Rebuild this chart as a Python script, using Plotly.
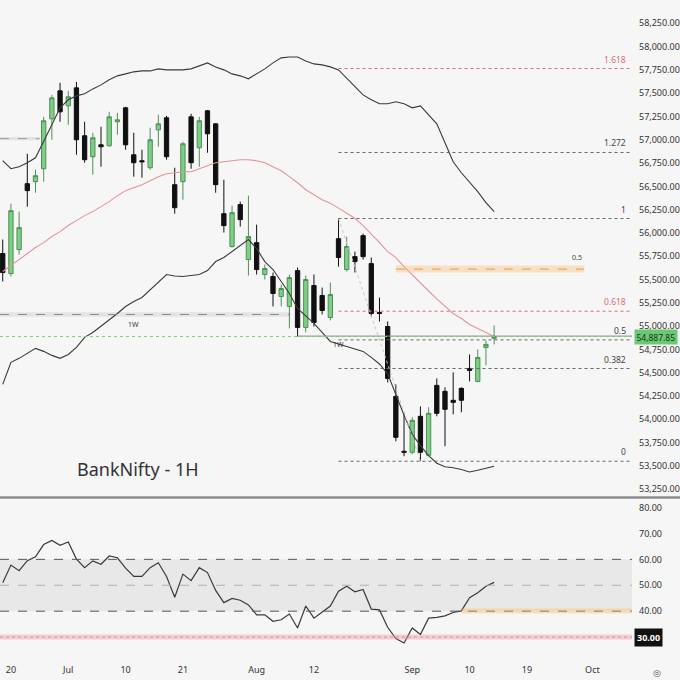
import plotly.graph_objects as go

# ── Data ─────────────────────────────────────────────────────────────────────
DATES = [
    "2025-06-19", "2025-06-20", "2025-06-23", "2025-06-24", "2025-06-25", "2025-06-26",
    "2025-06-27", "2025-06-30", "2025-07-01", "2025-07-02", "2025-07-03", "2025-07-04",
    "2025-07-07", "2025-07-08", "2025-07-09", "2025-07-10", "2025-07-11", "2025-07-14",
    "2025-07-15", "2025-07-16", "2025-07-17", "2025-07-18", "2025-07-21", "2025-07-22",
    "2025-07-23", "2025-07-24", "2025-07-25", "2025-07-28", "2025-07-29", "2025-07-30",
    "2025-07-31", "2025-08-01", "2025-08-04", "2025-08-05", "2025-08-06", "2025-08-07",
    "2025-08-08", "2025-08-11", "2025-08-12", "2025-08-13", "2025-08-14", "2025-08-18",
    "2025-08-19", "2025-08-20", "2025-08-21", "2025-08-22", "2025-08-25", "2025-08-26",
    "2025-08-28", "2025-08-29", "2025-09-01", "2025-09-02", "2025-09-03", "2025-09-04",
    "2025-09-05", "2025-09-08", "2025-09-09", "2025-09-10", "2025-09-11", "2025-09-12",
    "2025-09-15",
]
OPEN = [55779, 55564, 55821, 56529, 56550, 56689, 57225, 57525, 57364, 57557,
        57043, 56818, 56946, 56936, 57193, 57343, 56839, 56775, 56700, 57107,
        57236, 56518, 56550, 57246, 56914, 57311, 57171, 56207, 55854, 56304,
        55714, 55896, 55554, 55532, 55318, 55211, 55596, 54986, 55436, 55329,
        55093, 55939, 55607, 55746, 55971, 55671, 55146, 54996, 54246, 53657,
        53646, 54032, 53614, 54364, 54300, 54204, 54332, 54546, 54407, 54771,
        54870]
HIGH = [55929, 56314, 56229, 56850, 56679, 57246, 57482, 57611, 57525, 57621,
        57193, 57075, 57139, 57300, 57289, 57354, 57075, 56893, 57129, 57268,
        57257, 56700, 56979, 57279, 57246, 57320, 57180, 56571, 56293, 56336,
        56400, 56089, 55661, 55575, 55446, 55554, 55629, 55543, 55554, 55414,
        55468, 56155, 55961, 55800, 55993, 55736, 55307, 55050, 54375, 54075,
        54021, 54139, 54129, 54439, 54343, 54504, 54343, 54696, 54750, 54846,
        55007]
LOW = [55479, 55532, 55768, 56282, 56432, 56550, 57000, 57193, 57161, 56839,
       56754, 56625, 56711, 56925, 57054, 56893, 56604, 56593, 56679, 56925,
       56786, 56207, 56357, 56689, 56711, 56861, 56432, 56004, 55843, 56068,
       55543, 55554, 55500, 55211, 55211, 54975, 54889, 54932, 54996, 55125,
       55061, 55639, 55586, 55575, 55714, 55104, 55050, 54396, 53764, 53604,
       53625, 53555, 53604, 54032, 53711, 54054, 54075, 54407, 54396, 54579,
       54804]
CLOSE = [55575, 56239, 56057, 56454, 56614, 57204, 57450, 57300, 57461, 57000,
         56786, 57021, 56925, 57246, 57214, 56946, 56754, 56764, 57000, 57171,
         56818, 56271, 56957, 56754, 57204, 57064, 56518, 56079, 56218, 56143,
         55961, 55607, 55618, 55350, 55404, 55521, 54986, 55500, 55039, 55168,
         55339, 55736, 55854, 55693, 55746, 55136, 55136, 54439, 53807, 53646,
         53989, 53646, 54064, 54064, 54107, 54182, 54204, 54525, 54664, 54804,
         54887.85]

BB_UPPER = [56775, 56689, 56711, 56754, 56807, 56979, 57161, 57343, 57429, 57471,
            57493, 57546, 57589, 57643, 57686, 57707, 57729, 57739, 57739, 57761,
            57750, 57750, 57750, 57761, 57793, 57825, 57782, 57750, 57707, 57686,
            57654, 57707, 57761, 57825, 57879, 57889, 57889, 57846, 57814, 57804,
            57782, 57750, 57664, 57579, 57482, 57429, 57386, 57386, 57407, 57386,
            57343, 57364, 57268, 57171, 56968, 56764, 56646, 56550, 56443, 56325,
            56229]
BB_MID = [55586, 55650, 55714, 55779, 55843, 55896, 55961, 56014, 56079, 56132,
          56186, 56229, 56282, 56336, 56400, 56454, 56486, 56518, 56561, 56604,
          56636, 56646, 56657, 56657, 56689, 56721, 56754, 56764, 56775, 56786,
          56786, 56775, 56754, 56711, 56668, 56604, 56539, 56464, 56411, 56357,
          56320, 56266, 56213, 56158, 56079, 55993, 55896, 55800, 55736, 55639,
          55548, 55457, 55377, 55292, 55211, 55136, 55082, 55018, 54975, 54932,
          54889]
BB_LOWER = [54375, 54611, 54654, 54707, 54761, 54729, 54686, 54654, 54696, 54771,
            54879, 54932, 54997, 55071, 55136, 55211, 55264, 55307, 55393, 55468,
            55554, 55538, 55532, 55543, 55554, 55596, 55693, 55736, 55800, 55864,
            55929, 55832, 55693, 55607, 55479, 55350, 55189, 55104, 55029, 54932,
            54836, 54808, 54782, 54755, 54729, 54664, 54594, 54488, 54257, 54043,
            53839, 53717, 53610, 53529, 53490, 53480, 53461, 53434, 53454, 53475,
            53497]

RSI = [51.0, 57.8, 55.6, 59.5, 61.0, 65.7, 67.3, 65.4, 66.7, 60.1,
       56.8, 59.4, 58.1, 61.3, 60.6, 56.6, 53.4, 53.4, 56.8, 58.7,
       53.4, 45.4, 54.3, 51.8, 56.8, 54.9, 48.0, 43.3, 44.9, 44.2,
       42.4, 38.6, 38.6, 36.1, 36.7, 38.9, 33.5, 42.0, 37.3, 39.5,
       42.0, 47.7, 49.6, 47.5, 48.4, 40.8, 40.5, 33.8, 29.4, 27.7,
       33.5, 31.0, 37.3, 37.6, 38.2, 39.5, 40.1, 45.2, 47.1, 49.6,
       51.1]

FIB_START, FIB_END = "2025-08-18", "2025-09-02"
FIB_HIGH, FIB_LOW = 56155, 53550
FIB_RATIOS = [1.618, 1.272, 1, 0.618, 0.5, 0.382, 0]
FIB_LABELS = ["1.618", "1.272", "1", "0.618", "0.5", "0.382", "0"]

LAST_PRICE = 54887.85
TICK_DATES = ["2025-06-20", "2025-07-01", "2025-07-10", "2025-07-21", "2025-08-01",
              "2025-08-12", "2025-09-01", "2025-09-10", "2025-09-19", "2025-10-01"]
TICK_TEXT = ["20", "Jul", "10", "21", "Aug", "12", "Sep", "10", "19", "Oct"]
RSI_TICKS = [40, 50, 60, 70, 80]   # 30 is shown in its own tag
HOLIDAYS = ["2025-08-15", "2025-08-27"]

# ── Style ────────────────────────────────────────────────────────────────────
BG = "#f6f6f6"
DARK = "#333333"
RED = "#de6b73"
GREEN_FILL = "#7dcf86"
GREEN_LINE = "#4f8f57"
FONT = "Noto Sans"

X_START, X_END = "2025-06-18 16:00", "2025-10-07 20:00"
MAIN_BOT = (663 - 497.5) / 663

fig = go.Figure()

# ── Main pane: Bollinger + candles ───────────────────────────────────────────
fig.add_trace(go.Scatter(x=DATES, y=BB_UPPER, mode="lines", line=dict(color="#3a3a3a", width=1.1),
                         hoverinfo="skip", showlegend=False))
fig.add_trace(go.Scatter(x=DATES, y=BB_LOWER, mode="lines", line=dict(color="#3a3a3a", width=1.1),
                         hoverinfo="skip", showlegend=False))
fig.add_trace(go.Scatter(x=DATES, y=BB_MID, mode="lines", line=dict(color="#e49499", width=1.1),
                         hoverinfo="skip", showlegend=False))
# fib anchor diagonal
fig.add_trace(go.Scatter(x=[FIB_START, FIB_END], y=[FIB_HIGH, FIB_LOW], mode="lines",
                         line=dict(color="#c4c4c4", width=1, dash="dot"),
                         hoverinfo="skip", showlegend=False))
fig.add_trace(go.Candlestick(
    x=DATES, open=OPEN, high=HIGH, low=LOW, close=CLOSE,
    increasing=dict(fillcolor=GREEN_FILL, line=dict(color=GREEN_LINE, width=1)),
    decreasing=dict(fillcolor="#101010", line=dict(color="#101010", width=1)),
    whiskerwidth=0, showlegend=False, hoverinfo="skip",
))

# ── RSI pane ─────────────────────────────────────────────────────────────────
fig.add_trace(go.Scatter(x=DATES, y=RSI, mode="lines", line=dict(color="#3a3a3a", width=1.2),
                         xaxis="x", yaxis="y2", hoverinfo="skip", showlegend=False))

shapes = []
# separator between panes
shapes.append(dict(type="line", xref="paper", yref="paper", x0=0, x1=680 / 632,
                   y0=MAIN_BOT, y1=MAIN_BOT, line=dict(color="#8c8c8c", width=2.5)))

# fib levels
fib_range = FIB_HIGH - FIB_LOW
for r, lab in zip(FIB_RATIOS, FIB_LABELS):
    lvl = FIB_LOW + r * fib_range
    col = RED if lab in ("0.618", "1.618") else "#666666"
    shapes.append(dict(type="line", xref="x", yref="y", x0=FIB_START, x1=X_END, y0=lvl, y1=lvl,
                       line=dict(color=col, width=1, dash="dot")))
    fig.add_annotation(xref="paper", yref="y", x=0.993, y=lvl, text=lab, showarrow=False,
                       xanchor="right", yanchor="bottom", yshift=2,
                       font=dict(size=8.5, color=RED if col == RED else "#444444", family=FONT))

# weekly levels (gray bands)
shapes.append(dict(type="rect", xref="x", yref="y", x0=X_START, x1="2025-06-25 12:00",
                   y0=56995, y1=57030, fillcolor="rgba(0,0,0,0.08)", line_width=0))
shapes.append(dict(type="line", xref="x", yref="y", x0=X_START, x1="2025-06-25 12:00",
                   y0=57012, y1=57012, line=dict(color="#9a9a9a", width=1, dash="dash")))
shapes.append(dict(type="rect", xref="x", yref="y", x0=X_START, x1="2025-08-07 02:00",
                   y0=55100, y1=55150, fillcolor="rgba(0,0,0,0.07)", line_width=0))
shapes.append(dict(type="line", xref="x", yref="y", x0=X_START, x1="2025-08-07 02:00",
                   y0=55125, y1=55125, line=dict(color="#8a8a8a", width=1, dash="dash")))
shapes.append(dict(type="line", xref="x", yref="y", x0="2025-08-08", x1=X_END,
                   y0=54893, y1=54893, line=dict(color="#8a8a8a", width=1)))
fig.add_annotation(xref="x", yref="y", x="2025-07-11", y=55090, text="1W", showarrow=False,
                   yanchor="top", font=dict(size=7, color="#333", family=FONT))
fig.add_annotation(xref="x", yref="y", x="2025-08-18", y=54870, text="1W", showarrow=False,
                   yanchor="top", font=dict(size=7, color="#333", family=FONT))

# last price line
shapes.append(dict(type="line", xref="x", yref="y", x0=X_START, x1=X_END,
                   y0=LAST_PRICE, y1=LAST_PRICE, line=dict(color="#7cc983", width=1, dash="dot")))

# orange 0.5 zone
shapes.append(dict(type="rect", xref="x", yref="y", x0="2025-08-28", x1="2025-09-30",
                   y0=55575, y1=55650, fillcolor="rgba(255,190,110,0.38)", line_width=0))
shapes.append(dict(type="line", xref="x", yref="y", x0="2025-08-28", x1="2025-09-30",
                   y0=55612, y1=55612, line=dict(color="#e39a55", width=1, dash="dash")))
fig.add_annotation(xref="x", yref="y", x="2025-09-30", y=55665, text="0.5", showarrow=False,
                   xanchor="right", yanchor="bottom", font=dict(size=7, color="#444", family=FONT))

# RSI zones
shapes.append(dict(type="rect", xref="x", yref="y2", x0=X_START, x1=X_END, y0=40, y1=60,
                   fillcolor="rgba(0,0,0,0.055)", line_width=0, layer="below"))
for lvl, col in [(60, "#555555"), (50, "#b0b0b0"), (40, "#555555")]:
    shapes.append(dict(type="line", xref="x", yref="y2", x0=X_START, x1=X_END, y0=lvl, y1=lvl,
                       line=dict(color=col, width=1, dash="dash")))
shapes.append(dict(type="rect", xref="x", yref="y2", x0=X_START, x1=X_END, y0=29.1, y1=31.0,
                   fillcolor="rgba(240,150,160,0.40)", line_width=0))
shapes.append(dict(type="line", xref="x", yref="y2", x0=X_START, x1=X_END, y0=30, y1=30,
                   line=dict(color="#e58a93", width=1, dash="dot")))
shapes.append(dict(type="rect", xref="x", yref="y2", x0="2025-09-09", x1=X_END, y0=39.1, y1=41.0,
                   fillcolor="rgba(255,183,90,0.38)", line_width=0))

# axis tags
fig.add_annotation(xref="paper", yref="y", x=1.003, y=LAST_PRICE, text="54,887.85", showarrow=False,
                   xanchor="left", bgcolor="#6cc874", borderpad=1.5,
                   font=dict(size=8.5, color="#0d3b14", family=FONT))
fig.add_annotation(xref="paper", yref="y2", x=1.003, y=30, text="<b>30.00</b>", showarrow=False,
                   xanchor="left", bgcolor="#111111", borderpad=2,
                   font=dict(size=9, color="white", family=FONT))
# little settings glyph in the corner
fig.add_annotation(xref="paper", yref="paper", x=657 / 632, y=0, yshift=-10, text="◎",
                   xanchor="center", yanchor="middle",
                   showarrow=False, font=dict(size=9, color="#555555", family="DejaVu Sans"))

fig.add_annotation(xref="paper", yref="y", x=75 / 632, y=53464, text="BankNifty - 1H",
                   showarrow=False, xanchor="left", yanchor="middle",
                   font=dict(size=18, color="#333333", family=FONT))

fig.update_layout(
    width=680, height=680,
    margin=dict(l=0, r=48, t=0, b=17),
    paper_bgcolor=BG, plot_bgcolor=BG,
    font=dict(family=FONT, size=9, color=DARK),
    showlegend=False,
    boxgap=0.25,
    shapes=shapes,
    xaxis=dict(
        domain=[0, 1], anchor="y2", type="date", range=[X_START, X_END],
        rangebreaks=[dict(bounds=["sat", "mon"]), dict(values=HOLIDAYS)],
        tickvals=TICK_DATES, ticktext=TICK_TEXT, ticks="",
        showgrid=False, zeroline=False, showline=False,
        rangeslider=dict(visible=False),
        tickfont=dict(size=9, color=DARK),
    ),
    yaxis=dict(
        domain=[MAIN_BOT + 0.002, 1], anchor="x", side="right",
        range=[53175, 58500], dtick=250, tick0=0, tickformat=",.2f",
        showgrid=False, zeroline=False, showline=False, ticks="",
        ticklabelstandoff=6, tickfont=dict(size=9, color=DARK),
    ),
    yaxis2=dict(
        domain=[0, MAIN_BOT - 0.003], anchor="x", side="right",
        range=[20, 83.1], tickvals=RSI_TICKS, tickformat=".2f",
        showgrid=False, zeroline=False, showline=False, ticks="",
        ticklabelstandoff=6, tickfont=dict(size=9, color=DARK),
    ),
)

# page body has a default 8px margin; drop it so the 680px figure fits the window
fig.write_html("out.html", config={"displayModeBar": False},
               post_script="document.body.style.margin='0';document.body.style.background='#f6f6f6';")
